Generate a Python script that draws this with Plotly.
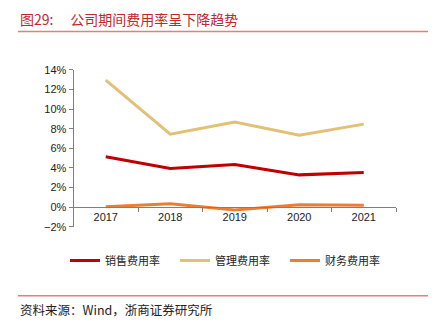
import plotly.graph_objects as go

years = ["2017", "2018", "2019", "2020", "2021"]
sales_rate = [5.13, 3.95, 4.35, 3.29, 3.52]
admin_rate = [12.96, 7.45, 8.67, 7.33, 8.47]
finance_rate = [0.05, 0.34, -0.30, 0.25, 0.20]

series = [
    ("销售费用率", sales_rate, "#C00000"),
    ("管理费用率", admin_rate, "#E2C076"),
    ("财务费用率", finance_rate, "#ED7D31"),
]

W, H = 435, 332
cjk = "Noto Sans CJK SC"
latin = "Liberation Sans, Arial"

fig = go.Figure()
for name, vals, color in series:
    fig.add_trace(go.Scatter(
        x=years, y=vals, name=name, mode="lines",
        line=dict(color=color, width=3),
    ))

# plot area in pixels
x0, x1 = 73.5, 396.0
y_top, y_bot = 66.3, 229.0
ymin, ymax = -2, 14
zero_px = y_bot - (0 - ymin) / (ymax - ymin) * (y_bot - y_top)

fig.update_layout(
    width=W, height=H,
    margin=dict(l=0, r=0, t=0, b=0),
    paper_bgcolor="white", plot_bgcolor="white",
    showlegend=True,
    legend=dict(
        orientation="h", x=65 / W, y=1 - 249 / H, xanchor="left", yanchor="top",
        font=dict(family=cjk, size=11, color="#222222"),
        entrywidth=65, entrywidthmode="pixels",
        bgcolor="rgba(0,0,0,0)",
    ),
    xaxis=dict(
        type="category", domain=[x0 / W, x1 / W],
        range=[-0.5, 4.5],
        anchor="free", position=1 - zero_px / H,
        showline=True, linecolor="#7f7f7f", linewidth=1,
        ticks="outside", ticklen=4, tickcolor="#7f7f7f", tickson="boundaries",
        showgrid=False, zeroline=False,
        tickfont=dict(family=latin, size=11, color="#222222"),
    ),
    yaxis=dict(
        domain=[1 - y_bot / H, 1 - y_top / H],
        range=[ymin, ymax], dtick=2, ticksuffix="%",
        showline=True, linecolor="#7f7f7f", linewidth=1,
        ticks="outside", ticklen=4, tickcolor="#7f7f7f",
        showgrid=False, zeroline=False,
        tickfont=dict(family=latin, size=11, color="#222222"),
    ),
)

# title, rules and source note
fig.add_annotation(
    xref="paper", yref="paper", x=18 / W, y=1 - 13.5 / H,
    xanchor="left", yanchor="middle", showarrow=False,
    text="图29:\u2003\u2009公司期间费用率呈下降趋势",
    font=dict(family=cjk, size=14, color="#C0282D"),
)
for yy in (26.5, 300.5):
    fig.add_shape(
        type="line", xref="paper", yref="paper",
        x0=18 / W, x1=428 / W, y0=1 - yy / H, y1=1 - yy / H,
        line=dict(color="#E08080", width=1.5),
    )
fig.add_annotation(
    xref="paper", yref="paper", x=18 / W, y=1 - 315 / H,
    xanchor="left", yanchor="middle", showarrow=False,
    text="资料来源：Wind，浙商证券研究所",
    font=dict(family=cjk, size=12.5, color="#222222"),
)

fig.write_html("out.html")
